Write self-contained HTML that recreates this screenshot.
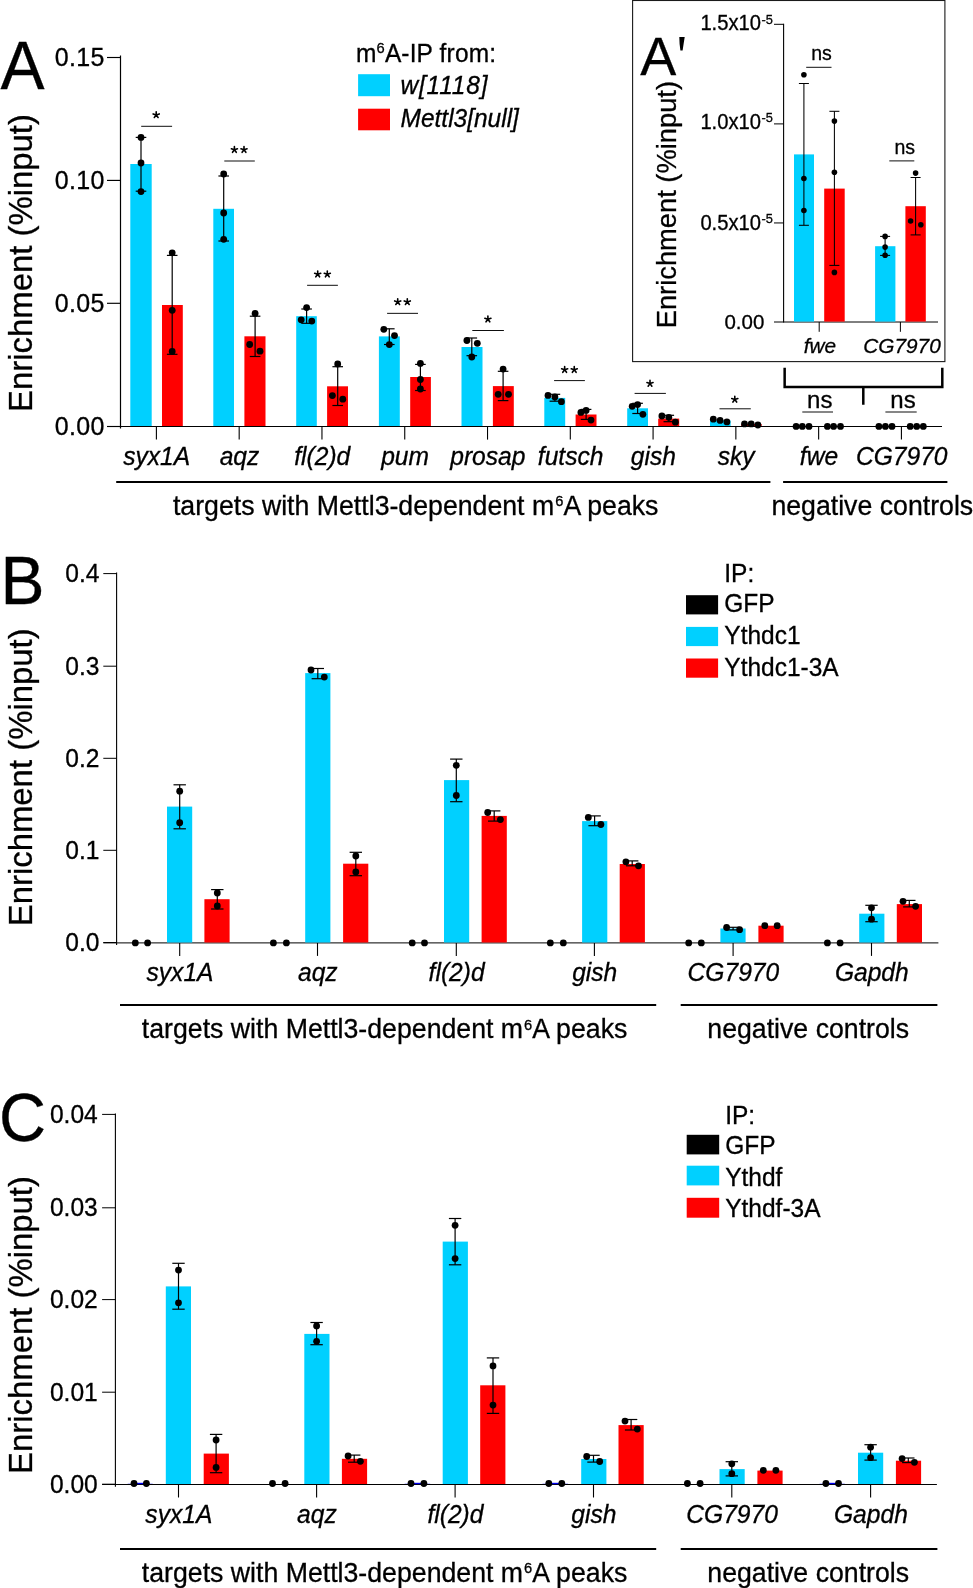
<!DOCTYPE html>
<html><head><meta charset="utf-8"><title>Figure</title>
<style>
html,body{margin:0;padding:0;background:#fff;}
body{width:973px;height:1588px;overflow:hidden;}
svg{display:block;font-family:"Liberation Sans", sans-serif;will-change:transform;}
svg text{fill:#000;stroke:#000;stroke-width:0.3px;}
</style></head>
<body>
<svg width="973" height="1588" viewBox="0 0 973 1588">
<rect x="0" y="0" width="973" height="1588" fill="#fff"/>
<line x1="120.50" y1="55.50" x2="120.50" y2="428.50" stroke="#000" stroke-width="1.2" stroke-linecap="butt"/>
<line x1="107.00" y1="57.50" x2="120.50" y2="57.50" stroke="#000" stroke-width="1.15" stroke-linecap="butt"/>
<text transform="translate(104.60,66.10) scale(1.0,1.03)" font-size="25" text-anchor="end" letter-spacing="0.3">0.15</text>
<line x1="107.00" y1="180.40" x2="120.50" y2="180.40" stroke="#000" stroke-width="1.15" stroke-linecap="butt"/>
<text transform="translate(104.60,189.00) scale(1.0,1.03)" font-size="25" text-anchor="end" letter-spacing="0.3">0.10</text>
<line x1="107.00" y1="303.30" x2="120.50" y2="303.30" stroke="#000" stroke-width="1.15" stroke-linecap="butt"/>
<text transform="translate(104.60,311.90) scale(1.0,1.03)" font-size="25" text-anchor="end" letter-spacing="0.3">0.05</text>
<line x1="107.00" y1="426.50" x2="120.50" y2="426.50" stroke="#000" stroke-width="1.15" stroke-linecap="butt"/>
<text transform="translate(104.60,435.10) scale(1.0,1.03)" font-size="25" text-anchor="end" letter-spacing="0.3">0.00</text>
<line x1="107.00" y1="426.50" x2="942.00" y2="426.50" stroke="#000" stroke-width="1.0" stroke-linecap="butt"/>
<line x1="156.40" y1="426.50" x2="156.40" y2="439.60" stroke="#000" stroke-width="1.1" stroke-linecap="butt"/>
<line x1="239.18" y1="426.50" x2="239.18" y2="439.60" stroke="#000" stroke-width="1.1" stroke-linecap="butt"/>
<line x1="321.96" y1="426.50" x2="321.96" y2="439.60" stroke="#000" stroke-width="1.1" stroke-linecap="butt"/>
<line x1="404.74" y1="426.50" x2="404.74" y2="439.60" stroke="#000" stroke-width="1.1" stroke-linecap="butt"/>
<line x1="487.52" y1="426.50" x2="487.52" y2="439.60" stroke="#000" stroke-width="1.1" stroke-linecap="butt"/>
<line x1="570.30" y1="426.50" x2="570.30" y2="439.60" stroke="#000" stroke-width="1.1" stroke-linecap="butt"/>
<line x1="653.08" y1="426.50" x2="653.08" y2="439.60" stroke="#000" stroke-width="1.1" stroke-linecap="butt"/>
<line x1="735.86" y1="426.50" x2="735.86" y2="439.60" stroke="#000" stroke-width="1.1" stroke-linecap="butt"/>
<line x1="818.64" y1="426.50" x2="818.64" y2="439.60" stroke="#000" stroke-width="1.1" stroke-linecap="butt"/>
<line x1="901.42" y1="426.50" x2="901.42" y2="439.60" stroke="#000" stroke-width="1.1" stroke-linecap="butt"/>
<rect x="130.30" y="164.00" width="21.40" height="262.00" fill="#00D0FF"/>
<rect x="162.00" y="305.00" width="20.80" height="121.00" fill="#FF0000"/>
<line x1="141.00" y1="137.40" x2="141.00" y2="191.20" stroke="#000" stroke-width="1.2" stroke-linecap="butt"/>
<line x1="135.70" y1="137.40" x2="146.30" y2="137.40" stroke="#000" stroke-width="1.2" stroke-linecap="butt"/>
<line x1="135.70" y1="191.20" x2="146.30" y2="191.20" stroke="#000" stroke-width="1.2" stroke-linecap="butt"/>
<line x1="172.20" y1="255.40" x2="172.20" y2="354.30" stroke="#000" stroke-width="1.2" stroke-linecap="butt"/>
<line x1="166.90" y1="255.40" x2="177.50" y2="255.40" stroke="#000" stroke-width="1.2" stroke-linecap="butt"/>
<line x1="166.90" y1="354.30" x2="177.50" y2="354.30" stroke="#000" stroke-width="1.2" stroke-linecap="butt"/>
<circle cx="141.00" cy="137.40" r="3.4" fill="#000"/>
<circle cx="141.00" cy="163.00" r="3.4" fill="#000"/>
<circle cx="141.00" cy="191.60" r="3.4" fill="#000"/>
<circle cx="172.20" cy="252.80" r="3.4" fill="#000"/>
<circle cx="172.20" cy="310.30" r="3.4" fill="#000"/>
<circle cx="172.20" cy="351.50" r="3.4" fill="#000"/>
<rect x="213.30" y="208.80" width="20.70" height="217.20" fill="#00D0FF"/>
<rect x="244.40" y="336.30" width="21.10" height="89.70" fill="#FF0000"/>
<line x1="223.70" y1="176.00" x2="223.70" y2="241.00" stroke="#000" stroke-width="1.2" stroke-linecap="butt"/>
<line x1="218.40" y1="176.00" x2="229.00" y2="176.00" stroke="#000" stroke-width="1.2" stroke-linecap="butt"/>
<line x1="218.40" y1="241.00" x2="229.00" y2="241.00" stroke="#000" stroke-width="1.2" stroke-linecap="butt"/>
<line x1="255.10" y1="316.20" x2="255.10" y2="356.50" stroke="#000" stroke-width="1.2" stroke-linecap="butt"/>
<line x1="249.80" y1="316.20" x2="260.40" y2="316.20" stroke="#000" stroke-width="1.2" stroke-linecap="butt"/>
<line x1="249.80" y1="356.50" x2="260.40" y2="356.50" stroke="#000" stroke-width="1.2" stroke-linecap="butt"/>
<circle cx="223.70" cy="174.00" r="3.4" fill="#000"/>
<circle cx="223.70" cy="213.00" r="3.4" fill="#000"/>
<circle cx="223.70" cy="239.30" r="3.4" fill="#000"/>
<circle cx="255.10" cy="313.40" r="3.4" fill="#000"/>
<circle cx="249.70" cy="344.50" r="3.4" fill="#000"/>
<circle cx="260.00" cy="351.20" r="3.4" fill="#000"/>
<rect x="296.20" y="316.20" width="20.60" height="109.80" fill="#00D0FF"/>
<rect x="327.10" y="386.30" width="20.90" height="39.70" fill="#FF0000"/>
<line x1="306.60" y1="309.00" x2="306.60" y2="323.30" stroke="#000" stroke-width="1.2" stroke-linecap="butt"/>
<line x1="301.30" y1="309.00" x2="311.90" y2="309.00" stroke="#000" stroke-width="1.2" stroke-linecap="butt"/>
<line x1="301.30" y1="323.30" x2="311.90" y2="323.30" stroke="#000" stroke-width="1.2" stroke-linecap="butt"/>
<line x1="337.70" y1="366.70" x2="337.70" y2="405.50" stroke="#000" stroke-width="1.2" stroke-linecap="butt"/>
<line x1="332.40" y1="366.70" x2="343.00" y2="366.70" stroke="#000" stroke-width="1.2" stroke-linecap="butt"/>
<line x1="332.40" y1="405.50" x2="343.00" y2="405.50" stroke="#000" stroke-width="1.2" stroke-linecap="butt"/>
<circle cx="306.60" cy="307.60" r="3.4" fill="#000"/>
<circle cx="301.20" cy="319.80" r="3.4" fill="#000"/>
<circle cx="311.80" cy="321.10" r="3.4" fill="#000"/>
<circle cx="337.70" cy="363.90" r="3.4" fill="#000"/>
<circle cx="332.40" cy="395.60" r="3.4" fill="#000"/>
<circle cx="342.80" cy="399.20" r="3.4" fill="#000"/>
<rect x="378.90" y="336.40" width="20.90" height="89.60" fill="#00D0FF"/>
<rect x="410.20" y="377.00" width="20.70" height="49.00" fill="#FF0000"/>
<line x1="389.30" y1="328.80" x2="389.30" y2="344.50" stroke="#000" stroke-width="1.2" stroke-linecap="butt"/>
<line x1="384.00" y1="328.80" x2="394.60" y2="328.80" stroke="#000" stroke-width="1.2" stroke-linecap="butt"/>
<line x1="384.00" y1="344.50" x2="394.60" y2="344.50" stroke="#000" stroke-width="1.2" stroke-linecap="butt"/>
<line x1="420.40" y1="364.40" x2="420.40" y2="390.50" stroke="#000" stroke-width="1.2" stroke-linecap="butt"/>
<line x1="415.10" y1="364.40" x2="425.70" y2="364.40" stroke="#000" stroke-width="1.2" stroke-linecap="butt"/>
<line x1="415.10" y1="390.50" x2="425.70" y2="390.50" stroke="#000" stroke-width="1.2" stroke-linecap="butt"/>
<circle cx="383.80" cy="329.30" r="3.4" fill="#000"/>
<circle cx="394.50" cy="335.60" r="3.4" fill="#000"/>
<circle cx="389.30" cy="344.60" r="3.4" fill="#000"/>
<circle cx="420.40" cy="363.40" r="3.4" fill="#000"/>
<circle cx="420.40" cy="379.50" r="3.4" fill="#000"/>
<circle cx="420.40" cy="389.00" r="3.4" fill="#000"/>
<rect x="461.50" y="347.00" width="21.00" height="79.00" fill="#00D0FF"/>
<rect x="492.90" y="386.10" width="20.90" height="39.90" fill="#FF0000"/>
<line x1="471.80" y1="338.00" x2="471.80" y2="355.70" stroke="#000" stroke-width="1.2" stroke-linecap="butt"/>
<line x1="466.50" y1="338.00" x2="477.10" y2="338.00" stroke="#000" stroke-width="1.2" stroke-linecap="butt"/>
<line x1="466.50" y1="355.70" x2="477.10" y2="355.70" stroke="#000" stroke-width="1.2" stroke-linecap="butt"/>
<line x1="503.10" y1="371.30" x2="503.10" y2="400.60" stroke="#000" stroke-width="1.2" stroke-linecap="butt"/>
<line x1="497.80" y1="371.30" x2="508.40" y2="371.30" stroke="#000" stroke-width="1.2" stroke-linecap="butt"/>
<line x1="497.80" y1="400.60" x2="508.40" y2="400.60" stroke="#000" stroke-width="1.2" stroke-linecap="butt"/>
<circle cx="466.90" cy="340.50" r="3.4" fill="#000"/>
<circle cx="477.30" cy="343.30" r="3.4" fill="#000"/>
<circle cx="471.80" cy="357.00" r="3.4" fill="#000"/>
<circle cx="503.10" cy="369.10" r="3.4" fill="#000"/>
<circle cx="498.20" cy="394.30" r="3.4" fill="#000"/>
<circle cx="508.50" cy="394.30" r="3.4" fill="#000"/>
<rect x="544.30" y="397.90" width="20.90" height="28.10" fill="#00D0FF"/>
<rect x="575.60" y="414.50" width="20.90" height="11.50" fill="#FF0000"/>
<line x1="554.90" y1="394.30" x2="554.90" y2="401.20" stroke="#000" stroke-width="1.2" stroke-linecap="butt"/>
<line x1="549.60" y1="394.30" x2="560.20" y2="394.30" stroke="#000" stroke-width="1.2" stroke-linecap="butt"/>
<line x1="549.60" y1="401.20" x2="560.20" y2="401.20" stroke="#000" stroke-width="1.2" stroke-linecap="butt"/>
<line x1="586.10" y1="409.40" x2="586.10" y2="419.40" stroke="#000" stroke-width="1.2" stroke-linecap="butt"/>
<line x1="580.80" y1="409.40" x2="591.40" y2="409.40" stroke="#000" stroke-width="1.2" stroke-linecap="butt"/>
<line x1="580.80" y1="419.40" x2="591.40" y2="419.40" stroke="#000" stroke-width="1.2" stroke-linecap="butt"/>
<circle cx="548.00" cy="395.40" r="3.4" fill="#000"/>
<circle cx="554.90" cy="396.90" r="3.4" fill="#000"/>
<circle cx="561.40" cy="401.70" r="3.4" fill="#000"/>
<circle cx="580.90" cy="412.40" r="3.4" fill="#000"/>
<circle cx="586.10" cy="410.40" r="3.4" fill="#000"/>
<circle cx="591.00" cy="420.10" r="3.4" fill="#000"/>
<rect x="627.20" y="408.30" width="20.80" height="17.70" fill="#00D0FF"/>
<rect x="658.20" y="418.60" width="21.00" height="7.40" fill="#FF0000"/>
<line x1="637.60" y1="403.30" x2="637.60" y2="413.50" stroke="#000" stroke-width="1.2" stroke-linecap="butt"/>
<line x1="632.30" y1="403.30" x2="642.90" y2="403.30" stroke="#000" stroke-width="1.2" stroke-linecap="butt"/>
<line x1="632.30" y1="413.50" x2="642.90" y2="413.50" stroke="#000" stroke-width="1.2" stroke-linecap="butt"/>
<line x1="668.80" y1="415.30" x2="668.80" y2="421.70" stroke="#000" stroke-width="1.2" stroke-linecap="butt"/>
<line x1="663.50" y1="415.30" x2="674.10" y2="415.30" stroke="#000" stroke-width="1.2" stroke-linecap="butt"/>
<line x1="663.50" y1="421.70" x2="674.10" y2="421.70" stroke="#000" stroke-width="1.2" stroke-linecap="butt"/>
<circle cx="632.20" cy="406.30" r="3.4" fill="#000"/>
<circle cx="637.60" cy="404.60" r="3.4" fill="#000"/>
<circle cx="642.90" cy="414.30" r="3.4" fill="#000"/>
<circle cx="661.90" cy="416.00" r="3.4" fill="#000"/>
<circle cx="668.80" cy="417.30" r="3.4" fill="#000"/>
<circle cx="675.40" cy="422.20" r="3.4" fill="#000"/>
<rect x="710.00" y="420.40" width="20.60" height="5.60" fill="#00D0FF"/>
<rect x="741.30" y="424.00" width="20.30" height="2.00" fill="#FF0000"/>
<circle cx="713.30" cy="419.20" r="3.4" fill="#000"/>
<circle cx="720.10" cy="420.40" r="3.4" fill="#000"/>
<circle cx="726.90" cy="421.90" r="3.4" fill="#000"/>
<circle cx="744.50" cy="423.90" r="3.4" fill="#000"/>
<circle cx="751.20" cy="423.90" r="3.4" fill="#000"/>
<circle cx="757.90" cy="425.00" r="3.4" fill="#000"/>
<circle cx="796.10" cy="426.40" r="3.4" fill="#000"/>
<circle cx="802.30" cy="426.40" r="3.4" fill="#000"/>
<circle cx="809.00" cy="426.40" r="3.4" fill="#000"/>
<circle cx="827.40" cy="426.40" r="3.4" fill="#000"/>
<circle cx="833.60" cy="426.40" r="3.4" fill="#000"/>
<circle cx="840.50" cy="426.40" r="3.4" fill="#000"/>
<circle cx="878.90" cy="426.40" r="3.4" fill="#000"/>
<circle cx="885.40" cy="426.40" r="3.4" fill="#000"/>
<circle cx="892.00" cy="426.40" r="3.4" fill="#000"/>
<circle cx="910.20" cy="426.40" r="3.4" fill="#000"/>
<circle cx="916.70" cy="426.40" r="3.4" fill="#000"/>
<circle cx="923.30" cy="426.40" r="3.4" fill="#000"/>
<line x1="141.20" y1="126.30" x2="172.10" y2="126.30" stroke="#000" stroke-width="0.95" stroke-linecap="butt"/>
<path d="M156.20,114.90L156.20,111.70M156.20,114.90L159.24,113.91M156.20,114.90L158.08,117.49M156.20,114.90L154.32,117.49M156.20,114.90L153.16,113.91" stroke="#000" stroke-width="1.6" stroke-linecap="round" fill="none"/>
<line x1="224.30" y1="161.00" x2="254.80" y2="161.00" stroke="#000" stroke-width="0.95" stroke-linecap="butt"/>
<path d="M234.40,149.75L234.40,146.55M234.40,149.75L237.44,148.76M234.40,149.75L236.28,152.34M234.40,149.75L232.52,152.34M234.40,149.75L231.36,148.76" stroke="#000" stroke-width="1.6" stroke-linecap="round" fill="none"/>
<path d="M244.00,149.75L244.00,146.55M244.00,149.75L247.04,148.76M244.00,149.75L245.88,152.34M244.00,149.75L242.12,152.34M244.00,149.75L240.96,148.76" stroke="#000" stroke-width="1.6" stroke-linecap="round" fill="none"/>
<line x1="307.10" y1="285.30" x2="337.90" y2="285.30" stroke="#000" stroke-width="0.95" stroke-linecap="butt"/>
<path d="M317.70,274.20L317.70,271.00M317.70,274.20L320.74,273.21M317.70,274.20L319.58,276.79M317.70,274.20L315.82,276.79M317.70,274.20L314.66,273.21" stroke="#000" stroke-width="1.6" stroke-linecap="round" fill="none"/>
<path d="M327.30,274.20L327.30,271.00M327.30,274.20L330.34,273.21M327.30,274.20L329.18,276.79M327.30,274.20L325.42,276.79M327.30,274.20L324.26,273.21" stroke="#000" stroke-width="1.6" stroke-linecap="round" fill="none"/>
<line x1="387.10" y1="313.35" x2="418.00" y2="313.35" stroke="#000" stroke-width="0.95" stroke-linecap="butt"/>
<path d="M397.70,301.90L397.70,298.70M397.70,301.90L400.74,300.91M397.70,301.90L399.58,304.49M397.70,301.90L395.82,304.49M397.70,301.90L394.66,300.91" stroke="#000" stroke-width="1.6" stroke-linecap="round" fill="none"/>
<path d="M407.30,301.90L407.30,298.70M407.30,301.90L410.34,300.91M407.30,301.90L409.18,304.49M407.30,301.90L405.42,304.49M407.30,301.90L404.26,300.91" stroke="#000" stroke-width="1.6" stroke-linecap="round" fill="none"/>
<line x1="472.30" y1="330.50" x2="503.90" y2="330.50" stroke="#000" stroke-width="0.95" stroke-linecap="butt"/>
<path d="M487.90,319.20L487.90,316.00M487.90,319.20L490.94,318.21M487.90,319.20L489.78,321.79M487.90,319.20L486.02,321.79M487.90,319.20L484.86,318.21" stroke="#000" stroke-width="1.6" stroke-linecap="round" fill="none"/>
<line x1="554.10" y1="380.60" x2="584.90" y2="380.60" stroke="#000" stroke-width="0.95" stroke-linecap="butt"/>
<path d="M564.65,369.70L564.65,366.50M564.65,369.70L567.69,368.71M564.65,369.70L566.53,372.29M564.65,369.70L562.77,372.29M564.65,369.70L561.61,368.71" stroke="#000" stroke-width="1.6" stroke-linecap="round" fill="none"/>
<path d="M574.25,369.70L574.25,366.50M574.25,369.70L577.29,368.71M574.25,369.70L576.13,372.29M574.25,369.70L572.37,372.29M574.25,369.70L571.21,368.71" stroke="#000" stroke-width="1.6" stroke-linecap="round" fill="none"/>
<line x1="634.60" y1="393.40" x2="665.90" y2="393.40" stroke="#000" stroke-width="0.95" stroke-linecap="butt"/>
<path d="M650.00,383.60L650.00,380.40M650.00,383.60L653.04,382.61M650.00,383.60L651.88,386.19M650.00,383.60L648.12,386.19M650.00,383.60L646.96,382.61" stroke="#000" stroke-width="1.6" stroke-linecap="round" fill="none"/>
<line x1="719.50" y1="408.80" x2="750.80" y2="408.80" stroke="#000" stroke-width="0.95" stroke-linecap="butt"/>
<path d="M734.80,399.50L734.80,396.30M734.80,399.50L737.84,398.51M734.80,399.50L736.68,402.09M734.80,399.50L732.92,402.09M734.80,399.50L731.76,398.51" stroke="#000" stroke-width="1.6" stroke-linecap="round" fill="none"/>
<line x1="802.30" y1="412.00" x2="833.00" y2="412.00" stroke="#000" stroke-width="0.95" stroke-linecap="butt"/>
<text x="819.80" y="407.60" font-size="24" text-anchor="middle">ns</text>
<line x1="885.40" y1="412.00" x2="916.70" y2="412.00" stroke="#000" stroke-width="0.95" stroke-linecap="butt"/>
<text x="903.00" y="407.60" font-size="24" text-anchor="middle">ns</text>
<text transform="translate(156.70,465.30) scale(1.0,1.04)" font-size="24.6" text-anchor="middle" font-style="italic">syx1A</text>
<text transform="translate(239.48,465.30) scale(1.0,1.04)" font-size="24.6" text-anchor="middle" font-style="italic">aqz</text>
<text transform="translate(322.26,465.30) scale(1.0,1.04)" font-size="24.6" text-anchor="middle" font-style="italic">fl(2)d</text>
<text transform="translate(405.04,465.30) scale(1.0,1.04)" font-size="24.6" text-anchor="middle" font-style="italic">pum</text>
<text transform="translate(487.82,465.30) scale(1.0,1.04)" font-size="24.6" text-anchor="middle" font-style="italic">prosap</text>
<text transform="translate(570.60,465.30) scale(1.0,1.04)" font-size="24.6" text-anchor="middle" font-style="italic">futsch</text>
<text transform="translate(653.38,465.30) scale(1.0,1.04)" font-size="24.6" text-anchor="middle" font-style="italic">gish</text>
<text transform="translate(736.16,465.30) scale(1.0,1.04)" font-size="24.6" text-anchor="middle" font-style="italic">sky</text>
<text transform="translate(818.94,465.30) scale(1.0,1.04)" font-size="24.6" text-anchor="middle" font-style="italic">fwe</text>
<text transform="translate(901.72,465.30) scale(1.0,1.04)" font-size="24.6" text-anchor="middle" font-style="italic">CG7970</text>
<line x1="116.20" y1="482.00" x2="770.40" y2="482.00" stroke="#000" stroke-width="2.0" stroke-linecap="butt"/>
<line x1="783.10" y1="482.00" x2="947.40" y2="482.00" stroke="#000" stroke-width="2.0" stroke-linecap="butt"/>
<text transform="translate(172.90,515.00) scale(1.0,1.03)" font-size="26.7" text-anchor="start">targets with Mettl3-dependent m<tspan font-size="14.7" dx="1" dy="-8.6">6</tspan><tspan dy="8.6" dx="0.1">A peaks</tspan></text>
<text transform="translate(771.40,515.00) scale(1.0,1.03)" font-size="26.7" text-anchor="start">negative controls</text>
<text transform="translate(31.6,412.00) rotate(-90)" font-size="32.9">Enrichment (%input)</text>
<text transform="translate(0.4,88.6) scale(1,1.05)" font-size="66">A</text>
<text transform="translate(356.00,61.70) scale(1.0,1.05)" font-size="24.5" text-anchor="start" letter-spacing="0.15">m<tspan font-size="14.7" dy="-8.7">6</tspan><tspan dy="8.7">A-IP from:</tspan></text>
<rect x="358.10" y="74.20" width="31.90" height="22.00" fill="#00D0FF"/>
<rect x="358.10" y="108.70" width="31.90" height="21.60" fill="#FF0000"/>
<text transform="translate(400.50,93.80) scale(1.0,1.05)" font-size="24.5" text-anchor="start" font-style="italic" letter-spacing="0.8">w[1118]</text>
<text transform="translate(400.50,126.60) scale(1.0,1.05)" font-size="24.5" text-anchor="start" font-style="italic">Mettl3[null]</text>
<rect x="632.6" y="0.5" width="312.3" height="361.1" fill="none" stroke="#1a1a1a" stroke-width="1.1"/>
<line x1="783.60" y1="23.80" x2="783.60" y2="322.60" stroke="#000" stroke-width="1.1" stroke-linecap="butt"/>
<line x1="774.00" y1="24.30" x2="783.60" y2="24.30" stroke="#000" stroke-width="1.0" stroke-linecap="butt"/>
<text transform="translate(761.00,30.40) scale(1.0,1.06)" font-size="20.2" text-anchor="end">1.5x10</text>
<text transform="translate(761.40,23.70) scale(1.0,1.06)" font-size="12.8" text-anchor="start">-5</text>
<line x1="774.00" y1="123.90" x2="783.60" y2="123.90" stroke="#000" stroke-width="1.0" stroke-linecap="butt"/>
<text transform="translate(761.00,129.40) scale(1.0,1.06)" font-size="20.2" text-anchor="end">1.0x10</text>
<text transform="translate(761.40,122.20) scale(1.0,1.06)" font-size="12.8" text-anchor="start">-5</text>
<line x1="774.00" y1="222.95" x2="783.60" y2="222.95" stroke="#000" stroke-width="1.0" stroke-linecap="butt"/>
<text transform="translate(761.00,229.90) scale(1.0,1.06)" font-size="20.2" text-anchor="end">0.5x10</text>
<text transform="translate(761.40,223.00) scale(1.0,1.06)" font-size="12.8" text-anchor="start">-5</text>
<text x="764.30" y="328.80" font-size="20.5" text-anchor="end">0.00</text>
<line x1="774.00" y1="322.00" x2="938.00" y2="322.00" stroke="#000" stroke-width="1.0" stroke-linecap="butt"/>
<line x1="819.20" y1="322.00" x2="819.20" y2="331.80" stroke="#000" stroke-width="1.0" stroke-linecap="butt"/>
<line x1="900.40" y1="322.00" x2="900.40" y2="331.80" stroke="#000" stroke-width="1.0" stroke-linecap="butt"/>
<rect x="794.00" y="154.40" width="20.00" height="167.20" fill="#00D0FF"/>
<rect x="824.20" y="188.60" width="20.50" height="133.00" fill="#FF0000"/>
<rect x="875.10" y="246.20" width="20.30" height="75.40" fill="#00D0FF"/>
<rect x="905.40" y="206.20" width="20.40" height="115.40" fill="#FF0000"/>
<line x1="803.90" y1="83.50" x2="803.90" y2="225.30" stroke="#000" stroke-width="1.05" stroke-linecap="butt"/>
<line x1="798.90" y1="83.50" x2="808.90" y2="83.50" stroke="#000" stroke-width="1.05" stroke-linecap="butt"/>
<line x1="798.90" y1="225.30" x2="808.90" y2="225.30" stroke="#000" stroke-width="1.05" stroke-linecap="butt"/>
<line x1="834.40" y1="111.30" x2="834.40" y2="265.40" stroke="#000" stroke-width="1.05" stroke-linecap="butt"/>
<line x1="829.40" y1="111.30" x2="839.40" y2="111.30" stroke="#000" stroke-width="1.05" stroke-linecap="butt"/>
<line x1="829.40" y1="265.40" x2="839.40" y2="265.40" stroke="#000" stroke-width="1.05" stroke-linecap="butt"/>
<line x1="885.10" y1="236.40" x2="885.10" y2="255.40" stroke="#000" stroke-width="1.05" stroke-linecap="butt"/>
<line x1="880.10" y1="236.40" x2="890.10" y2="236.40" stroke="#000" stroke-width="1.05" stroke-linecap="butt"/>
<line x1="880.10" y1="255.40" x2="890.10" y2="255.40" stroke="#000" stroke-width="1.05" stroke-linecap="butt"/>
<line x1="915.60" y1="177.50" x2="915.60" y2="234.90" stroke="#000" stroke-width="1.05" stroke-linecap="butt"/>
<line x1="910.60" y1="177.50" x2="920.60" y2="177.50" stroke="#000" stroke-width="1.05" stroke-linecap="butt"/>
<line x1="910.60" y1="234.90" x2="920.60" y2="234.90" stroke="#000" stroke-width="1.05" stroke-linecap="butt"/>
<circle cx="803.90" cy="74.80" r="2.8" fill="#000"/>
<circle cx="803.90" cy="178.50" r="2.8" fill="#000"/>
<circle cx="803.90" cy="210.50" r="2.8" fill="#000"/>
<circle cx="834.40" cy="121.10" r="2.8" fill="#000"/>
<circle cx="834.40" cy="172.20" r="2.8" fill="#000"/>
<circle cx="834.40" cy="272.40" r="2.8" fill="#000"/>
<circle cx="885.10" cy="236.40" r="2.8" fill="#000"/>
<circle cx="885.10" cy="247.10" r="2.8" fill="#000"/>
<circle cx="885.10" cy="255.20" r="2.8" fill="#000"/>
<circle cx="915.60" cy="173.10" r="2.8" fill="#000"/>
<circle cx="910.60" cy="221.00" r="2.8" fill="#000"/>
<circle cx="920.80" cy="224.70" r="2.8" fill="#000"/>
<line x1="806.20" y1="67.30" x2="831.50" y2="67.30" stroke="#000" stroke-width="0.95" stroke-linecap="butt"/>
<text x="821.50" y="60.30" font-size="19.5" text-anchor="middle">ns</text>
<line x1="889.30" y1="160.90" x2="914.30" y2="160.90" stroke="#000" stroke-width="0.95" stroke-linecap="butt"/>
<text x="904.80" y="153.80" font-size="19.5" text-anchor="middle">ns</text>
<text x="819.90" y="352.50" font-size="20.8" text-anchor="middle" font-style="italic">fwe</text>
<text x="902.00" y="352.50" font-size="20.8" text-anchor="middle" font-style="italic">CG7970</text>
<text transform="translate(675.7,328.30) rotate(-90)" font-size="27.3">Enrichment (%input)</text>
<text x="640.2" y="74.7" font-size="54">A</text>
<path d="M679.3,37.1 L684.7,37.1 L683.6,44 L682.6,50.4 L680.4,50.4 L679.6,44 Z" fill="#000"/>
<path d="M784.65,367.7 V387.0 H942.3 V367.7 M863.3,387.0 V404.7" fill="none" stroke="#000" stroke-width="2.5"/>
<line x1="116.60" y1="572.60" x2="116.60" y2="945.10" stroke="#000" stroke-width="1.1" stroke-linecap="butt"/>
<line x1="103.30" y1="573.60" x2="116.60" y2="573.60" stroke="#000" stroke-width="1.0" stroke-linecap="butt"/>
<text transform="translate(99.50,582.20) scale(1.0,1.03)" font-size="24.6" text-anchor="end">0.4</text>
<line x1="103.30" y1="666.20" x2="116.60" y2="666.20" stroke="#000" stroke-width="1.0" stroke-linecap="butt"/>
<text transform="translate(99.50,674.80) scale(1.0,1.03)" font-size="24.6" text-anchor="end">0.3</text>
<line x1="103.30" y1="758.30" x2="116.60" y2="758.30" stroke="#000" stroke-width="1.0" stroke-linecap="butt"/>
<text transform="translate(99.50,766.90) scale(1.0,1.03)" font-size="24.6" text-anchor="end">0.2</text>
<line x1="103.30" y1="850.30" x2="116.60" y2="850.30" stroke="#000" stroke-width="1.0" stroke-linecap="butt"/>
<text transform="translate(99.50,858.90) scale(1.0,1.03)" font-size="24.6" text-anchor="end">0.1</text>
<line x1="103.30" y1="942.50" x2="116.60" y2="942.50" stroke="#000" stroke-width="1.0" stroke-linecap="butt"/>
<text transform="translate(99.50,951.10) scale(1.0,1.03)" font-size="24.6" text-anchor="end">0.0</text>
<line x1="103.30" y1="942.90" x2="938.40" y2="942.90" stroke="#000" stroke-width="1.0" stroke-linecap="butt"/>
<line x1="179.70" y1="942.90" x2="179.70" y2="955.90" stroke="#000" stroke-width="1.1" stroke-linecap="butt"/>
<line x1="317.50" y1="942.90" x2="317.50" y2="955.90" stroke="#000" stroke-width="1.1" stroke-linecap="butt"/>
<line x1="456.30" y1="942.90" x2="456.30" y2="955.90" stroke="#000" stroke-width="1.1" stroke-linecap="butt"/>
<line x1="594.40" y1="942.90" x2="594.40" y2="955.90" stroke="#000" stroke-width="1.1" stroke-linecap="butt"/>
<line x1="733.10" y1="942.90" x2="733.10" y2="955.90" stroke="#000" stroke-width="1.1" stroke-linecap="butt"/>
<line x1="871.50" y1="942.90" x2="871.50" y2="955.90" stroke="#000" stroke-width="1.1" stroke-linecap="butt"/>
<rect x="167.00" y="806.60" width="25.20" height="135.90" fill="#00D0FF"/>
<rect x="204.40" y="899.20" width="25.20" height="43.30" fill="#FF0000"/>
<line x1="179.70" y1="784.80" x2="179.70" y2="828.80" stroke="#000" stroke-width="1.2" stroke-linecap="butt"/>
<line x1="173.50" y1="784.80" x2="185.90" y2="784.80" stroke="#000" stroke-width="1.2" stroke-linecap="butt"/>
<line x1="173.50" y1="828.80" x2="185.90" y2="828.80" stroke="#000" stroke-width="1.2" stroke-linecap="butt"/>
<line x1="217.30" y1="889.60" x2="217.30" y2="909.00" stroke="#000" stroke-width="1.2" stroke-linecap="butt"/>
<line x1="211.10" y1="889.60" x2="223.50" y2="889.60" stroke="#000" stroke-width="1.2" stroke-linecap="butt"/>
<line x1="211.10" y1="909.00" x2="223.50" y2="909.00" stroke="#000" stroke-width="1.2" stroke-linecap="butt"/>
<circle cx="135.30" cy="942.90" r="3.4" fill="#000"/>
<circle cx="147.60" cy="942.90" r="3.4" fill="#000"/>
<circle cx="179.70" cy="791.20" r="3.4" fill="#000"/>
<circle cx="179.70" cy="822.70" r="3.4" fill="#000"/>
<circle cx="217.30" cy="893.00" r="3.4" fill="#000"/>
<circle cx="217.30" cy="906.00" r="3.4" fill="#000"/>
<rect x="305.20" y="673.10" width="25.20" height="269.40" fill="#00D0FF"/>
<rect x="343.10" y="863.70" width="25.20" height="78.80" fill="#FF0000"/>
<line x1="317.80" y1="668.50" x2="317.80" y2="678.70" stroke="#000" stroke-width="1.2" stroke-linecap="butt"/>
<line x1="311.60" y1="668.50" x2="324.00" y2="668.50" stroke="#000" stroke-width="1.2" stroke-linecap="butt"/>
<line x1="311.60" y1="678.70" x2="324.00" y2="678.70" stroke="#000" stroke-width="1.2" stroke-linecap="butt"/>
<line x1="355.80" y1="852.30" x2="355.80" y2="875.70" stroke="#000" stroke-width="1.2" stroke-linecap="butt"/>
<line x1="349.60" y1="852.30" x2="362.00" y2="852.30" stroke="#000" stroke-width="1.2" stroke-linecap="butt"/>
<line x1="349.60" y1="875.70" x2="362.00" y2="875.70" stroke="#000" stroke-width="1.2" stroke-linecap="butt"/>
<circle cx="273.40" cy="942.90" r="3.4" fill="#000"/>
<circle cx="286.40" cy="942.90" r="3.4" fill="#000"/>
<circle cx="311.00" cy="670.00" r="3.4" fill="#000"/>
<circle cx="324.30" cy="677.10" r="3.4" fill="#000"/>
<circle cx="355.80" cy="856.00" r="3.4" fill="#000"/>
<circle cx="355.80" cy="872.00" r="3.4" fill="#000"/>
<rect x="444.00" y="780.10" width="25.20" height="162.40" fill="#00D0FF"/>
<rect x="481.60" y="815.90" width="25.20" height="126.60" fill="#FF0000"/>
<line x1="456.30" y1="759.10" x2="456.30" y2="801.70" stroke="#000" stroke-width="1.2" stroke-linecap="butt"/>
<line x1="450.10" y1="759.10" x2="462.50" y2="759.10" stroke="#000" stroke-width="1.2" stroke-linecap="butt"/>
<line x1="450.10" y1="801.70" x2="462.50" y2="801.70" stroke="#000" stroke-width="1.2" stroke-linecap="butt"/>
<line x1="494.20" y1="810.90" x2="494.20" y2="821.10" stroke="#000" stroke-width="1.2" stroke-linecap="butt"/>
<line x1="488.00" y1="810.90" x2="500.40" y2="810.90" stroke="#000" stroke-width="1.2" stroke-linecap="butt"/>
<line x1="488.00" y1="821.10" x2="500.40" y2="821.10" stroke="#000" stroke-width="1.2" stroke-linecap="butt"/>
<circle cx="412.20" cy="942.90" r="3.4" fill="#000"/>
<circle cx="424.50" cy="942.90" r="3.4" fill="#000"/>
<circle cx="456.30" cy="765.30" r="3.4" fill="#000"/>
<circle cx="456.30" cy="795.50" r="3.4" fill="#000"/>
<circle cx="487.70" cy="812.50" r="3.4" fill="#000"/>
<circle cx="500.40" cy="819.60" r="3.4" fill="#000"/>
<rect x="582.10" y="821.10" width="25.20" height="121.40" fill="#00D0FF"/>
<rect x="619.70" y="864.00" width="25.20" height="78.50" fill="#FF0000"/>
<line x1="594.60" y1="815.90" x2="594.60" y2="825.70" stroke="#000" stroke-width="1.2" stroke-linecap="butt"/>
<line x1="588.40" y1="815.90" x2="600.80" y2="815.90" stroke="#000" stroke-width="1.2" stroke-linecap="butt"/>
<line x1="588.40" y1="825.70" x2="600.80" y2="825.70" stroke="#000" stroke-width="1.2" stroke-linecap="butt"/>
<line x1="632.20" y1="860.90" x2="632.20" y2="865.80" stroke="#000" stroke-width="1.2" stroke-linecap="butt"/>
<line x1="626.00" y1="860.90" x2="638.40" y2="860.90" stroke="#000" stroke-width="1.2" stroke-linecap="butt"/>
<line x1="626.00" y1="865.80" x2="638.40" y2="865.80" stroke="#000" stroke-width="1.2" stroke-linecap="butt"/>
<circle cx="550.30" cy="942.90" r="3.4" fill="#000"/>
<circle cx="563.30" cy="942.90" r="3.4" fill="#000"/>
<circle cx="588.30" cy="817.40" r="3.4" fill="#000"/>
<circle cx="600.90" cy="824.50" r="3.4" fill="#000"/>
<circle cx="625.90" cy="861.80" r="3.4" fill="#000"/>
<circle cx="638.50" cy="865.80" r="3.4" fill="#000"/>
<rect x="720.40" y="928.50" width="25.20" height="14.00" fill="#00D0FF"/>
<rect x="758.40" y="925.70" width="25.20" height="16.80" fill="#FF0000"/>
<line x1="733.10" y1="927.30" x2="733.10" y2="929.90" stroke="#000" stroke-width="1.2" stroke-linecap="butt"/>
<line x1="726.90" y1="927.30" x2="739.30" y2="927.30" stroke="#000" stroke-width="1.2" stroke-linecap="butt"/>
<line x1="726.90" y1="929.90" x2="739.30" y2="929.90" stroke="#000" stroke-width="1.2" stroke-linecap="butt"/>
<circle cx="688.70" cy="942.90" r="3.4" fill="#000"/>
<circle cx="701.30" cy="942.90" r="3.4" fill="#000"/>
<circle cx="726.60" cy="927.50" r="3.4" fill="#000"/>
<circle cx="739.60" cy="929.70" r="3.4" fill="#000"/>
<circle cx="764.80" cy="925.70" r="3.4" fill="#000"/>
<circle cx="777.20" cy="925.70" r="3.4" fill="#000"/>
<rect x="859.20" y="913.70" width="25.20" height="28.80" fill="#00D0FF"/>
<rect x="896.80" y="904.10" width="25.20" height="38.40" fill="#FF0000"/>
<line x1="871.50" y1="905.30" x2="871.50" y2="921.70" stroke="#000" stroke-width="1.2" stroke-linecap="butt"/>
<line x1="865.30" y1="905.30" x2="877.70" y2="905.30" stroke="#000" stroke-width="1.2" stroke-linecap="butt"/>
<line x1="865.30" y1="921.70" x2="877.70" y2="921.70" stroke="#000" stroke-width="1.2" stroke-linecap="butt"/>
<line x1="909.30" y1="900.40" x2="909.30" y2="906.90" stroke="#000" stroke-width="1.2" stroke-linecap="butt"/>
<line x1="903.10" y1="900.40" x2="915.50" y2="900.40" stroke="#000" stroke-width="1.2" stroke-linecap="butt"/>
<line x1="903.10" y1="906.90" x2="915.50" y2="906.90" stroke="#000" stroke-width="1.2" stroke-linecap="butt"/>
<circle cx="827.40" cy="942.90" r="3.4" fill="#000"/>
<circle cx="840.10" cy="942.90" r="3.4" fill="#000"/>
<circle cx="871.50" cy="907.80" r="3.4" fill="#000"/>
<circle cx="871.50" cy="919.20" r="3.4" fill="#000"/>
<circle cx="903.00" cy="901.30" r="3.4" fill="#000"/>
<circle cx="915.60" cy="906.30" r="3.4" fill="#000"/>
<text transform="translate(180.00,981.30) scale(1.0,1.04)" font-size="24.6" text-anchor="middle" font-style="italic">syx1A</text>
<text transform="translate(317.80,981.30) scale(1.0,1.04)" font-size="24.6" text-anchor="middle" font-style="italic">aqz</text>
<text transform="translate(456.60,981.30) scale(1.0,1.04)" font-size="24.6" text-anchor="middle" font-style="italic">fl(2)d</text>
<text transform="translate(594.70,981.30) scale(1.0,1.04)" font-size="24.6" text-anchor="middle" font-style="italic">gish</text>
<text transform="translate(733.40,981.30) scale(1.0,1.04)" font-size="24.6" text-anchor="middle" font-style="italic">CG7970</text>
<text transform="translate(871.80,981.30) scale(1.0,1.04)" font-size="24.6" text-anchor="middle" font-style="italic">Gapdh</text>
<line x1="120.00" y1="1005.00" x2="656.20" y2="1005.00" stroke="#000" stroke-width="2.0" stroke-linecap="butt"/>
<line x1="680.70" y1="1005.00" x2="937.40" y2="1005.00" stroke="#000" stroke-width="2.0" stroke-linecap="butt"/>
<text transform="translate(141.80,1038.40) scale(1.0,1.03)" font-size="26.7" text-anchor="start">targets with Mettl3-dependent m<tspan font-size="14.7" dx="1" dy="-8.6">6</tspan><tspan dy="8.6" dx="0.1">A peaks</tspan></text>
<text transform="translate(707.30,1038.40) scale(1.0,1.03)" font-size="26.7" text-anchor="start">negative controls</text>
<text transform="translate(31.6,926.30) rotate(-90)" font-size="32.9">Enrichment (%input)</text>
<text transform="translate(0.4,603.9) scale(1,1.05)" font-size="66">B</text>
<text transform="translate(724.30,582.30) scale(1.0,1.04)" font-size="24.5" text-anchor="start">IP:</text>
<rect x="686.00" y="595.20" width="32.10" height="19.20" fill="#000"/>
<text transform="translate(724.30,612.10) scale(1.0,1.04)" font-size="24.5" text-anchor="start">GFP</text>
<rect x="686.00" y="626.90" width="32.10" height="19.20" fill="#00D0FF"/>
<text transform="translate(724.30,643.80) scale(1.0,1.04)" font-size="24.5" text-anchor="start">Ythdc1</text>
<rect x="686.00" y="658.50" width="32.10" height="19.20" fill="#FF0000"/>
<text transform="translate(724.30,675.90) scale(1.0,1.04)" font-size="24.5" text-anchor="start">Ythdc1-3A</text>
<line x1="115.40" y1="1113.40" x2="115.40" y2="1486.70" stroke="#000" stroke-width="1.1" stroke-linecap="butt"/>
<line x1="102.10" y1="1114.40" x2="115.40" y2="1114.40" stroke="#000" stroke-width="1.0" stroke-linecap="butt"/>
<text transform="translate(97.80,1123.00) scale(1.0,1.03)" font-size="24.6" text-anchor="end">0.04</text>
<line x1="102.10" y1="1207.80" x2="115.40" y2="1207.80" stroke="#000" stroke-width="1.0" stroke-linecap="butt"/>
<text transform="translate(97.80,1216.40) scale(1.0,1.03)" font-size="24.6" text-anchor="end">0.03</text>
<line x1="102.10" y1="1299.60" x2="115.40" y2="1299.60" stroke="#000" stroke-width="1.0" stroke-linecap="butt"/>
<text transform="translate(97.80,1308.20) scale(1.0,1.03)" font-size="24.6" text-anchor="end">0.02</text>
<line x1="102.10" y1="1392.20" x2="115.40" y2="1392.20" stroke="#000" stroke-width="1.0" stroke-linecap="butt"/>
<text transform="translate(97.80,1400.80) scale(1.0,1.03)" font-size="24.6" text-anchor="end">0.01</text>
<line x1="102.10" y1="1484.20" x2="115.40" y2="1484.20" stroke="#000" stroke-width="1.0" stroke-linecap="butt"/>
<text transform="translate(97.80,1492.80) scale(1.0,1.03)" font-size="24.6" text-anchor="end">0.00</text>
<line x1="102.10" y1="1484.50" x2="936.90" y2="1484.50" stroke="#000" stroke-width="1.0" stroke-linecap="butt"/>
<line x1="178.50" y1="1484.50" x2="178.50" y2="1497.50" stroke="#000" stroke-width="1.1" stroke-linecap="butt"/>
<line x1="316.60" y1="1484.50" x2="316.60" y2="1497.50" stroke="#000" stroke-width="1.1" stroke-linecap="butt"/>
<line x1="455.10" y1="1484.50" x2="455.10" y2="1497.50" stroke="#000" stroke-width="1.1" stroke-linecap="butt"/>
<line x1="593.50" y1="1484.50" x2="593.50" y2="1497.50" stroke="#000" stroke-width="1.1" stroke-linecap="butt"/>
<line x1="731.80" y1="1484.50" x2="731.80" y2="1497.50" stroke="#000" stroke-width="1.1" stroke-linecap="butt"/>
<line x1="870.60" y1="1484.50" x2="870.60" y2="1497.50" stroke="#000" stroke-width="1.1" stroke-linecap="butt"/>
<rect x="165.80" y="1286.40" width="25.20" height="197.60" fill="#00D0FF"/>
<rect x="203.70" y="1453.60" width="25.20" height="30.40" fill="#FF0000"/>
<line x1="127.70" y1="1483.50" x2="152.70" y2="1483.50" stroke="#c8c8ff" stroke-width="1.0" stroke-linecap="butt"/>
<line x1="134.00" y1="1483.50" x2="146.40" y2="1483.50" stroke="#0000f0" stroke-width="1.4" stroke-linecap="butt"/>
<line x1="178.50" y1="1263.30" x2="178.50" y2="1309.20" stroke="#000" stroke-width="1.2" stroke-linecap="butt"/>
<line x1="172.30" y1="1263.30" x2="184.70" y2="1263.30" stroke="#000" stroke-width="1.2" stroke-linecap="butt"/>
<line x1="172.30" y1="1309.20" x2="184.70" y2="1309.20" stroke="#000" stroke-width="1.2" stroke-linecap="butt"/>
<line x1="216.10" y1="1434.40" x2="216.10" y2="1472.70" stroke="#000" stroke-width="1.2" stroke-linecap="butt"/>
<line x1="209.90" y1="1434.40" x2="222.30" y2="1434.40" stroke="#000" stroke-width="1.2" stroke-linecap="butt"/>
<line x1="209.90" y1="1472.70" x2="222.30" y2="1472.70" stroke="#000" stroke-width="1.2" stroke-linecap="butt"/>
<circle cx="134.00" cy="1483.50" r="3.4" fill="#000"/>
<circle cx="146.40" cy="1483.50" r="3.4" fill="#000"/>
<circle cx="178.50" cy="1270.10" r="3.4" fill="#000"/>
<circle cx="178.50" cy="1302.80" r="3.4" fill="#000"/>
<circle cx="216.10" cy="1440.00" r="3.4" fill="#000"/>
<circle cx="216.10" cy="1467.40" r="3.4" fill="#000"/>
<rect x="304.30" y="1333.90" width="25.20" height="150.10" fill="#00D0FF"/>
<rect x="341.90" y="1458.80" width="25.20" height="25.20" fill="#FF0000"/>
<line x1="316.60" y1="1322.50" x2="316.60" y2="1344.70" stroke="#000" stroke-width="1.2" stroke-linecap="butt"/>
<line x1="310.40" y1="1322.50" x2="322.80" y2="1322.50" stroke="#000" stroke-width="1.2" stroke-linecap="butt"/>
<line x1="310.40" y1="1344.70" x2="322.80" y2="1344.70" stroke="#000" stroke-width="1.2" stroke-linecap="butt"/>
<line x1="354.20" y1="1455.10" x2="354.20" y2="1462.20" stroke="#000" stroke-width="1.2" stroke-linecap="butt"/>
<line x1="348.00" y1="1455.10" x2="360.40" y2="1455.10" stroke="#000" stroke-width="1.2" stroke-linecap="butt"/>
<line x1="348.00" y1="1462.20" x2="360.40" y2="1462.20" stroke="#000" stroke-width="1.2" stroke-linecap="butt"/>
<circle cx="272.50" cy="1483.50" r="3.4" fill="#000"/>
<circle cx="285.10" cy="1483.50" r="3.4" fill="#000"/>
<circle cx="316.60" cy="1325.90" r="3.4" fill="#000"/>
<circle cx="316.60" cy="1341.30" r="3.4" fill="#000"/>
<circle cx="348.10" cy="1456.00" r="3.4" fill="#000"/>
<circle cx="360.40" cy="1461.30" r="3.4" fill="#000"/>
<rect x="442.70" y="1241.60" width="25.20" height="242.40" fill="#00D0FF"/>
<rect x="480.20" y="1385.30" width="25.20" height="98.70" fill="#FF0000"/>
<line x1="404.70" y1="1483.50" x2="430.20" y2="1483.50" stroke="#c8c8ff" stroke-width="1.0" stroke-linecap="butt"/>
<line x1="411.00" y1="1483.50" x2="423.90" y2="1483.50" stroke="#0000f0" stroke-width="1.4" stroke-linecap="butt"/>
<line x1="455.10" y1="1218.50" x2="455.10" y2="1264.80" stroke="#000" stroke-width="1.2" stroke-linecap="butt"/>
<line x1="448.90" y1="1218.50" x2="461.30" y2="1218.50" stroke="#000" stroke-width="1.2" stroke-linecap="butt"/>
<line x1="448.90" y1="1264.80" x2="461.30" y2="1264.80" stroke="#000" stroke-width="1.2" stroke-linecap="butt"/>
<line x1="493.00" y1="1357.90" x2="493.00" y2="1413.40" stroke="#000" stroke-width="1.2" stroke-linecap="butt"/>
<line x1="486.80" y1="1357.90" x2="499.20" y2="1357.90" stroke="#000" stroke-width="1.2" stroke-linecap="butt"/>
<line x1="486.80" y1="1413.40" x2="499.20" y2="1413.40" stroke="#000" stroke-width="1.2" stroke-linecap="butt"/>
<circle cx="411.00" cy="1483.50" r="3.4" fill="#000"/>
<circle cx="423.90" cy="1483.50" r="3.4" fill="#000"/>
<circle cx="455.10" cy="1225.30" r="3.4" fill="#000"/>
<circle cx="455.10" cy="1258.60" r="3.4" fill="#000"/>
<circle cx="493.00" cy="1365.90" r="3.4" fill="#000"/>
<circle cx="493.00" cy="1405.10" r="3.4" fill="#000"/>
<rect x="581.20" y="1459.00" width="25.20" height="25.00" fill="#00D0FF"/>
<rect x="618.50" y="1425.10" width="25.20" height="58.90" fill="#FF0000"/>
<line x1="542.50" y1="1483.50" x2="568.10" y2="1483.50" stroke="#c8c8ff" stroke-width="1.0" stroke-linecap="butt"/>
<line x1="548.80" y1="1483.50" x2="561.80" y2="1483.50" stroke="#0000f0" stroke-width="1.4" stroke-linecap="butt"/>
<line x1="593.50" y1="1455.30" x2="593.50" y2="1462.10" stroke="#000" stroke-width="1.2" stroke-linecap="butt"/>
<line x1="587.30" y1="1455.30" x2="599.70" y2="1455.30" stroke="#000" stroke-width="1.2" stroke-linecap="butt"/>
<line x1="587.30" y1="1462.10" x2="599.70" y2="1462.10" stroke="#000" stroke-width="1.2" stroke-linecap="butt"/>
<line x1="631.10" y1="1419.50" x2="631.10" y2="1430.00" stroke="#000" stroke-width="1.2" stroke-linecap="butt"/>
<line x1="624.90" y1="1419.50" x2="637.30" y2="1419.50" stroke="#000" stroke-width="1.2" stroke-linecap="butt"/>
<line x1="624.90" y1="1430.00" x2="637.30" y2="1430.00" stroke="#000" stroke-width="1.2" stroke-linecap="butt"/>
<circle cx="548.80" cy="1483.50" r="3.4" fill="#000"/>
<circle cx="561.80" cy="1483.50" r="3.4" fill="#000"/>
<circle cx="586.70" cy="1456.50" r="3.4" fill="#000"/>
<circle cx="599.70" cy="1461.50" r="3.4" fill="#000"/>
<circle cx="625.00" cy="1421.10" r="3.4" fill="#000"/>
<circle cx="637.30" cy="1429.10" r="3.4" fill="#000"/>
<rect x="719.50" y="1469.10" width="25.20" height="14.90" fill="#00D0FF"/>
<rect x="757.40" y="1470.60" width="25.20" height="13.40" fill="#FF0000"/>
<line x1="731.80" y1="1461.70" x2="731.80" y2="1475.90" stroke="#000" stroke-width="1.2" stroke-linecap="butt"/>
<line x1="725.60" y1="1461.70" x2="738.00" y2="1461.70" stroke="#000" stroke-width="1.2" stroke-linecap="butt"/>
<line x1="725.60" y1="1475.90" x2="738.00" y2="1475.90" stroke="#000" stroke-width="1.2" stroke-linecap="butt"/>
<circle cx="687.40" cy="1483.50" r="3.4" fill="#000"/>
<circle cx="700.10" cy="1483.50" r="3.4" fill="#000"/>
<circle cx="731.80" cy="1463.80" r="3.4" fill="#000"/>
<circle cx="731.80" cy="1473.70" r="3.4" fill="#000"/>
<circle cx="763.30" cy="1470.30" r="3.4" fill="#000"/>
<circle cx="775.90" cy="1470.30" r="3.4" fill="#000"/>
<rect x="858.00" y="1452.70" width="25.20" height="31.30" fill="#00D0FF"/>
<rect x="895.90" y="1460.70" width="25.20" height="23.30" fill="#FF0000"/>
<line x1="819.60" y1="1483.50" x2="844.80" y2="1483.50" stroke="#c8c8ff" stroke-width="1.0" stroke-linecap="butt"/>
<line x1="825.90" y1="1483.50" x2="838.50" y2="1483.50" stroke="#0000f0" stroke-width="1.4" stroke-linecap="butt"/>
<line x1="870.60" y1="1444.70" x2="870.60" y2="1460.10" stroke="#000" stroke-width="1.2" stroke-linecap="butt"/>
<line x1="864.40" y1="1444.70" x2="876.80" y2="1444.70" stroke="#000" stroke-width="1.2" stroke-linecap="butt"/>
<line x1="864.40" y1="1460.10" x2="876.80" y2="1460.10" stroke="#000" stroke-width="1.2" stroke-linecap="butt"/>
<line x1="908.30" y1="1458.00" x2="908.30" y2="1462.60" stroke="#000" stroke-width="1.2" stroke-linecap="butt"/>
<line x1="902.10" y1="1458.00" x2="914.50" y2="1458.00" stroke="#000" stroke-width="1.2" stroke-linecap="butt"/>
<line x1="902.10" y1="1462.60" x2="914.50" y2="1462.60" stroke="#000" stroke-width="1.2" stroke-linecap="butt"/>
<circle cx="825.90" cy="1483.50" r="3.4" fill="#000"/>
<circle cx="838.50" cy="1483.50" r="3.4" fill="#000"/>
<circle cx="870.60" cy="1447.20" r="3.4" fill="#000"/>
<circle cx="870.60" cy="1457.70" r="3.4" fill="#000"/>
<circle cx="902.10" cy="1458.60" r="3.4" fill="#000"/>
<circle cx="914.40" cy="1462.30" r="3.4" fill="#000"/>
<text transform="translate(178.80,1522.60) scale(1.0,1.04)" font-size="24.6" text-anchor="middle" font-style="italic">syx1A</text>
<text transform="translate(316.90,1522.60) scale(1.0,1.04)" font-size="24.6" text-anchor="middle" font-style="italic">aqz</text>
<text transform="translate(455.40,1522.60) scale(1.0,1.04)" font-size="24.6" text-anchor="middle" font-style="italic">fl(2)d</text>
<text transform="translate(593.80,1522.60) scale(1.0,1.04)" font-size="24.6" text-anchor="middle" font-style="italic">gish</text>
<text transform="translate(732.10,1522.60) scale(1.0,1.04)" font-size="24.6" text-anchor="middle" font-style="italic">CG7970</text>
<text transform="translate(870.90,1522.60) scale(1.0,1.04)" font-size="24.6" text-anchor="middle" font-style="italic">Gapdh</text>
<line x1="120.00" y1="1549.00" x2="656.20" y2="1549.00" stroke="#000" stroke-width="2.0" stroke-linecap="butt"/>
<line x1="680.70" y1="1549.00" x2="937.40" y2="1549.00" stroke="#000" stroke-width="2.0" stroke-linecap="butt"/>
<text transform="translate(141.80,1581.80) scale(1.0,1.03)" font-size="26.7" text-anchor="start">targets with Mettl3-dependent m<tspan font-size="14.7" dx="1" dy="-8.6">6</tspan><tspan dy="8.6" dx="0.1">A peaks</tspan></text>
<text transform="translate(707.30,1581.80) scale(1.0,1.03)" font-size="26.7" text-anchor="start">negative controls</text>
<text transform="translate(31.6,1474.00) rotate(-90)" font-size="32.9">Enrichment (%input)</text>
<text transform="translate(-1.0,1140.8) scale(1,1.05)" font-size="65">C</text>
<text transform="translate(725.20,1124.00) scale(1.0,1.04)" font-size="24.5" text-anchor="start">IP:</text>
<rect x="686.70" y="1134.80" width="32.50" height="19.60" fill="#000"/>
<text transform="translate(725.20,1153.80) scale(1.0,1.04)" font-size="24.5" text-anchor="start">GFP</text>
<rect x="686.70" y="1165.70" width="32.50" height="19.70" fill="#00D0FF"/>
<text transform="translate(725.20,1185.60) scale(1.0,1.04)" font-size="24.5" text-anchor="start">Ythdf</text>
<rect x="686.70" y="1197.80" width="32.50" height="19.90" fill="#FF0000"/>
<text transform="translate(725.20,1217.30) scale(1.0,1.04)" font-size="24.5" text-anchor="start">Ythdf-3A</text>
</svg>
</body></html>
